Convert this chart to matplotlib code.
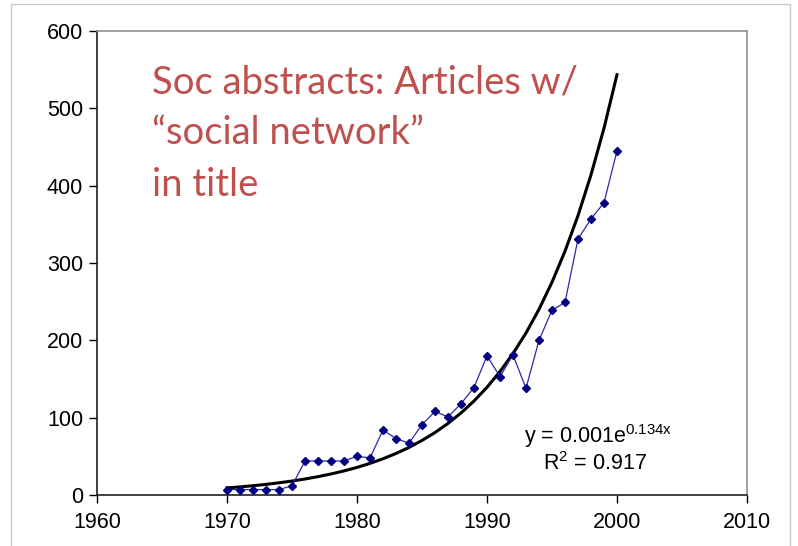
import numpy as np
import matplotlib.pyplot as plt
from matplotlib.patches import Rectangle

years = list(range(1970, 2001))
articles = [7, 7, 7, 7, 7, 12, 44, 44, 44, 44, 50, 48, 84, 73, 67, 91,
            108, 101, 118, 139, 180, 153, 181, 138, 200, 239, 249, 331, 357, 378, 445]

x_ticks = [1960, 1970, 1980, 1990, 2000, 2010]
y_ticks = [0, 100, 200, 300, 400, 500, 600]

title_lines = ['Soc abstracts: Articles w/', '\u201csocial network\u201d', 'in title']
eq_text = 'y = 0.001e$\\mathregular{^{0.134x}}$'
r2_text = 'R$\\mathregular{^{2}}$ = 0.917'

# exponential trendline, fitted like the spreadsheet does (least squares on log y)
yrs = np.array(years, dtype=float)
b, ln_a = np.polyfit(yrs - yrs[0], np.log(articles), 1)
trend = np.exp(ln_a) * np.exp(b * (yrs - yrs[0]))

plt.rcParams['font.family'] = ['Liberation Sans', 'DejaVu Sans']
fig = plt.figure(figsize=(7.98, 5.46), dpi=100)
ax = fig.add_axes([97 / 798, 1 - 495 / 546, 650 / 798, 464 / 546])

fig.patches.append(Rectangle((11 / 798, -0.01), 779 / 798, 1 - 4 / 546 + 0.01,
                             transform=fig.transFigure, fill=False,
                             edgecolor='#c8c8c8', linewidth=1))

ax.plot(yrs, trend, color='black', linewidth=2.2, zorder=2)
ax.plot(years, articles, color='#2a2aa8', linewidth=0.9, marker='D',
        markersize=4.5, markerfacecolor='#000080', markeredgecolor='#000080', zorder=3)

ax.set_xlim(1960, 2010)
ax.set_ylim(0, 600)
ax.set_xticks(x_ticks)
ax.set_yticks(y_ticks)
ax.tick_params(labelsize=15.5, length=6, width=1, color='black', direction='out')
ax.tick_params(axis='x', pad=6)
ax.tick_params(axis='y', pad=4)
for s in ['top', 'right']:
    ax.spines[s].set_color('#909090')
    ax.spines[s].set_linewidth(1.2)
for s in ['left', 'bottom']:
    ax.spines[s].set_color('#202020')
    ax.spines[s].set_linewidth(1.2)

# red caption lines, one baseline each
for line, base in zip(title_lines, [93, 144, 196]):
    fig.text(152 / 798, 1 - base / 546, line, color='#c0504d', fontsize=27.5,
             family=['Lato', 'DejaVu Sans'], va='baseline', ha='left')

ax.text(0.885, 0.112, eq_text, transform=ax.transAxes, ha='right',
        va='baseline', fontsize=15.5)
ax.text(0.846, 0.054, r2_text, transform=ax.transAxes, ha='right',
        va='baseline', fontsize=15.5)

fig.savefig('out.png', dpi=100)
